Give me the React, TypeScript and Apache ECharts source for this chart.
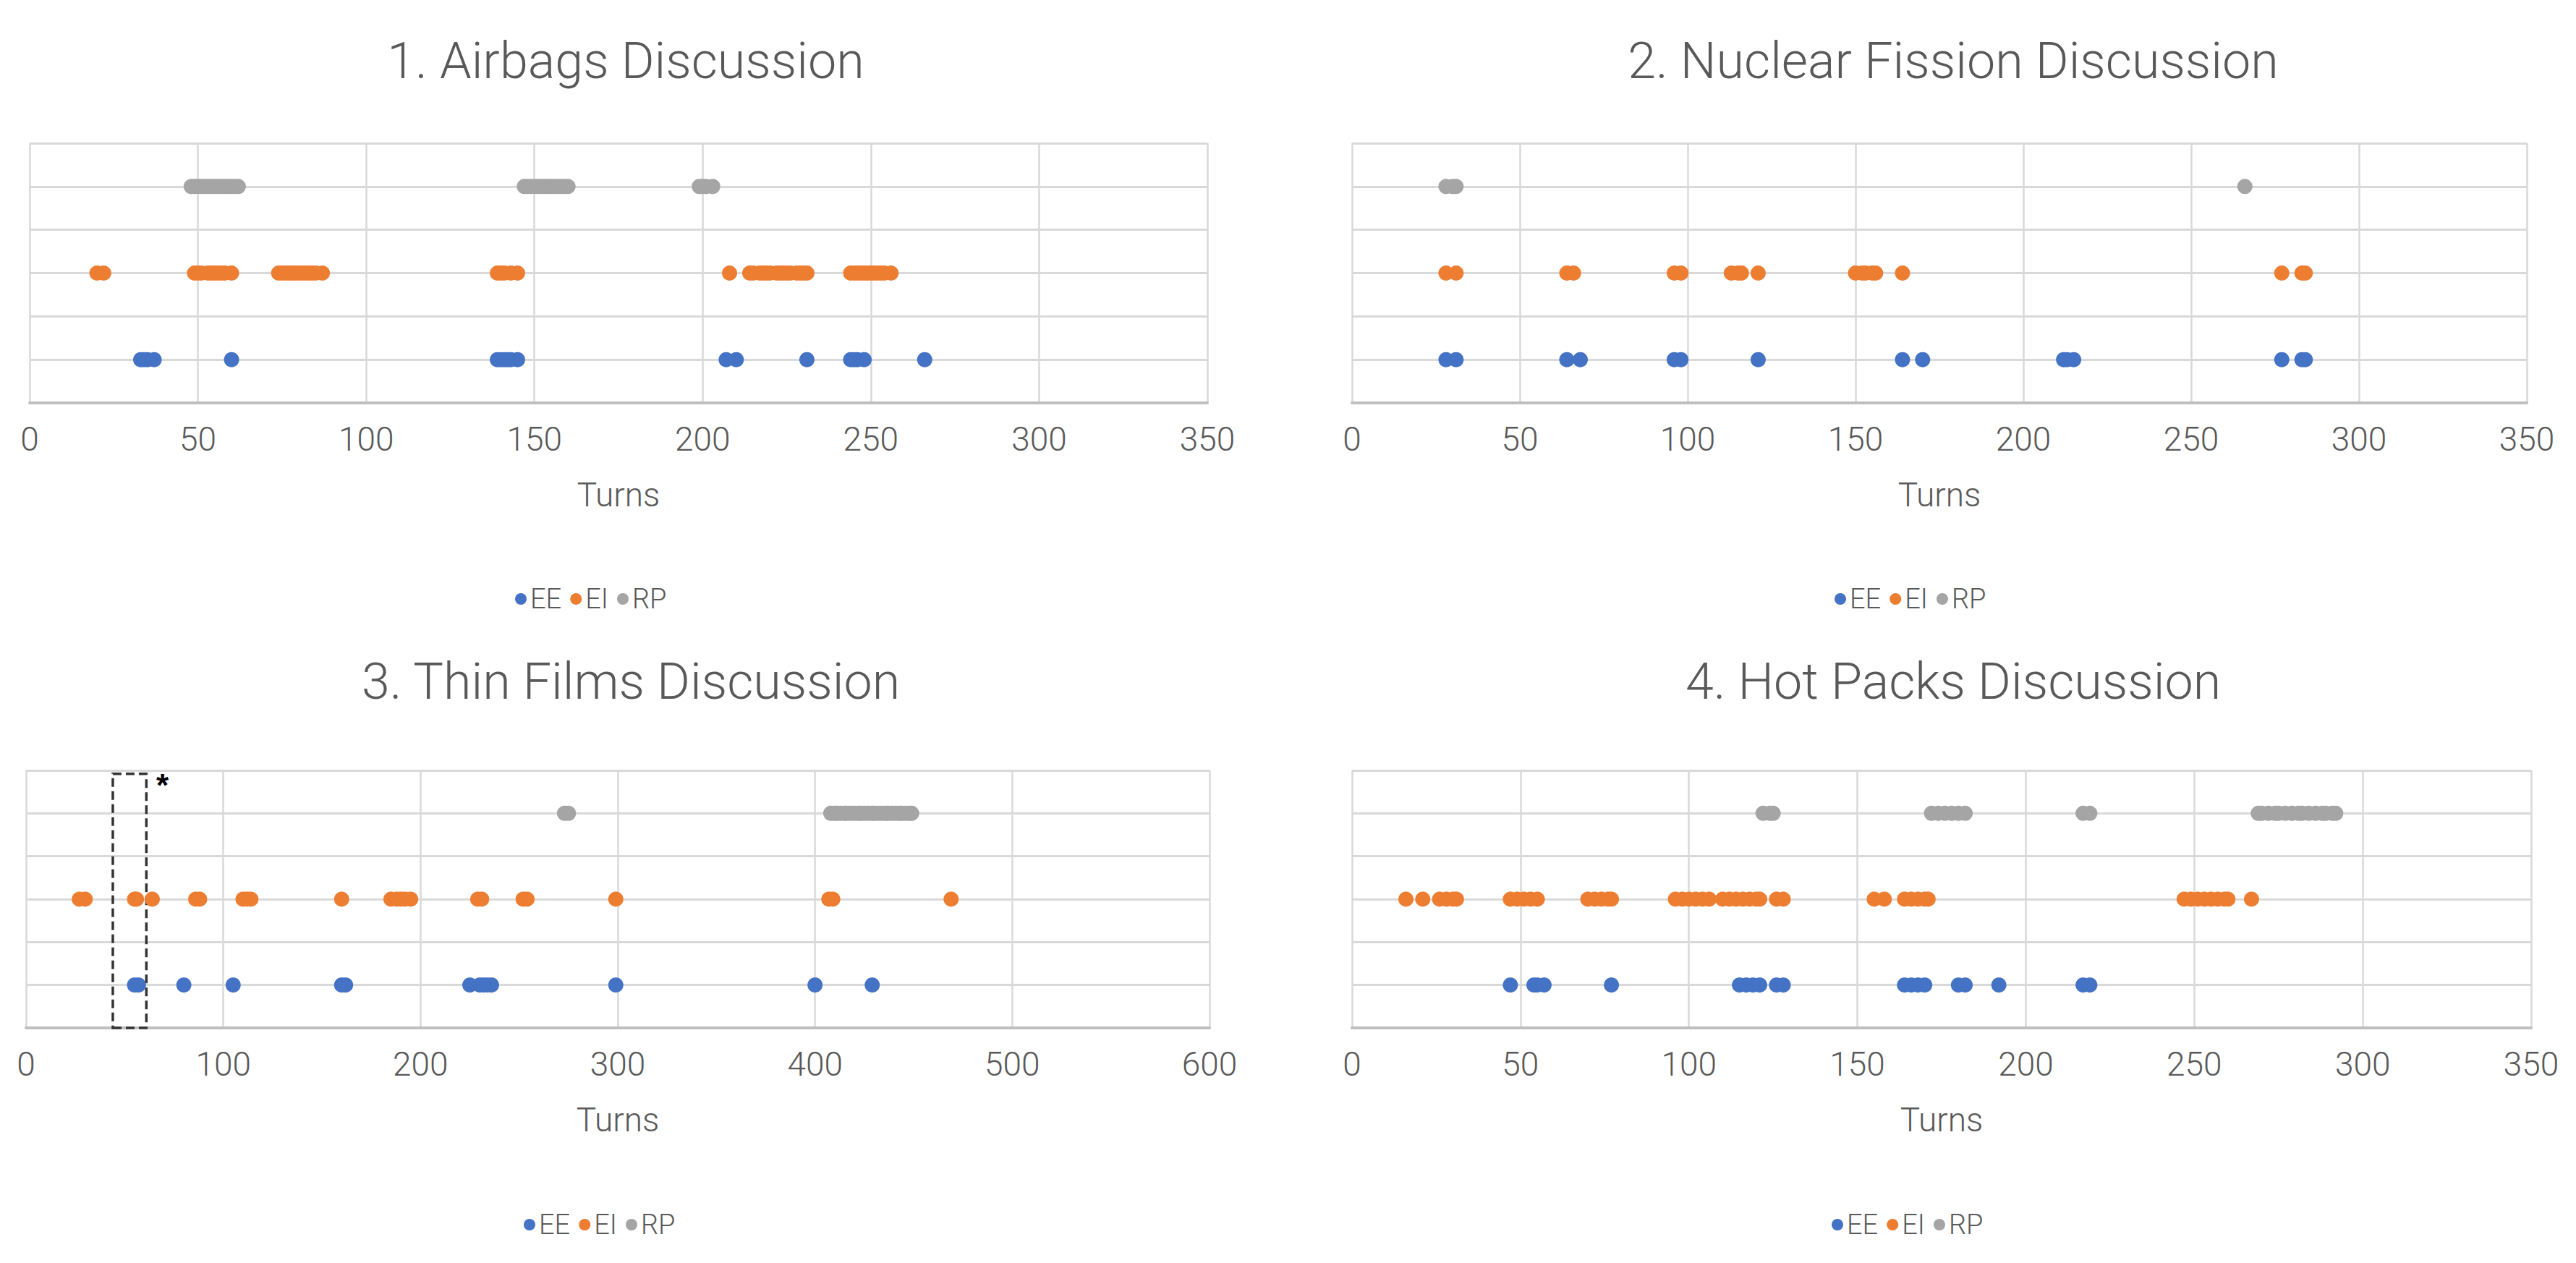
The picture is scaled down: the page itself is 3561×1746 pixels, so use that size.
import React, { useEffect, useRef } from 'react';
import * as echarts from 'echarts';

// ---------- data ----------
const TITLES = [
  '1. Airbags Discussion',
  '2. Nuclear Fission Discussion',
  '3. Thin Films Discussion',
  '4. Hot Packs Discussion',
];
const SERIES_NAMES = ['EE', 'EI', 'RP'];
const ROW_VALUES = [0.5, 1.5, 2.5]; // EE, EI, RP rows
const X_MAX = [350, 350, 600, 350];
const X_INTERVAL = [50, 50, 100, 50];
const AXIS_NAME = 'Turns';

// 1. Airbags
const EE1 = [33, 34, 35, 37, 60, 139, 140, 141, 142, 143, 145, 207, 210, 231, 244, 245, 246, 248, 266];
const EI1 = [20, 22, 49, 50, 51, 53, 54, 55, 56, 57, 58, 60, 74, 75, 76, 77, 78, 79, 80, 81, 82, 83, 84, 85, 87,
  139, 140, 141, 143, 145, 208, 214, 215, 217, 218, 219, 220, 222, 223, 224, 225, 226, 228, 229, 230, 231,
  244, 245, 246, 247, 248, 249, 250, 251, 252, 253, 254, 256];
const RP1 = [48, 49, 50, 51, 52, 53, 54, 55, 56, 57, 58, 59, 60, 61, 62, 147, 148, 149, 150, 151, 152, 153, 154,
  155, 156, 157, 158, 159, 160, 199, 200, 201, 203];

// 2. Nuclear Fission
const EE2 = [28, 31, 64, 68, 96, 98, 121, 164, 170, 212, 213, 215, 277, 283, 284];
const EI2 = [28, 31, 64, 66, 96, 98, 113, 115, 116, 121, 150, 152, 153, 155, 156, 164, 277, 283, 284];
const RP2 = [28, 30, 31, 266];

// 3. Thin Films
const EE3 = [55, 57, 80, 105, 160, 162, 225, 230, 232, 234, 236, 299, 400, 429];
const EI3 = [27, 30, 55, 56, 64, 86, 88, 110, 112, 114, 160, 185, 188, 190, 192, 195, 229, 231, 252, 254, 299,
  407, 409, 469];
const RP3 = [273, 275, 408, 410, 411, 413, 415, 416, 418, 420, 422, 423, 425, 427, 429, 430, 432, 434, 436, 437,
  439, 441, 443, 444, 446, 448, 449];
const HIGHLIGHT_FROM = 44; // dashed box in panel 3
const HIGHLIGHT_TO = 61;

// 4. Hot Packs
const EE4 = [47, 54, 55, 57, 77, 115, 117, 119, 121, 126, 128, 164, 166, 168, 170, 180, 182, 192, 217, 219];
const EI4 = [16, 21, 26, 28, 30, 31, 47, 49, 51, 53, 55, 70, 72, 74, 76, 77, 96, 98, 100, 102, 104, 106, 110, 112,
  114, 116, 118, 120, 121, 126, 128, 155, 158, 164, 166, 168, 170, 171, 247, 249, 251, 253, 255, 257, 259, 260, 267];
const RP4 = [122, 124, 125, 172, 174, 176, 178, 180, 182, 217, 219, 269, 270, 272, 274, 275, 277, 279, 281, 282,
  284, 286, 288, 289, 291, 292];

const PANELS = [
  [EE1, EI1, RP1],
  [EE2, EI2, RP2],
  [EE3, EI3, RP3],
  [EE4, EI4, RP4],
];

// ---------- layout / style ----------
const W = 3561;
const H = 1746;
const GRIDS = [
  { left: 41, top: 198, width: 1628, height: 359 },
  { left: 1869, top: 198, width: 1624, height: 359 },
  { left: 36, top: 1065, width: 1636, height: 356 },
  { left: 1869, top: 1065, width: 1630, height: 356 },
];
const TITLE_POS = [
  [865, 84],
  [2700, 84],
  [872, 942],
  [2700, 942],
];
const LEGEND_POS = [
  [712, 809],
  [2536, 809],
  [724, 1674],
  [2532, 1674],
];
const COLORS = ['#4472C4', '#ED7D31', '#A5A5A5'];
const TEXT = '#595959';
const FONT = 'Roboto, "Liberation Sans", sans-serif';

export default function App() {
  const ref = useRef<HTMLDivElement>(null);

  useEffect(() => {
    document.body.style.margin = '0';
    if (!ref.current) return;
    const chart = echarts.init(ref.current, undefined, { renderer: 'svg' });

    const series: any[] = [];
    PANELS.forEach((panel, p) => {
      panel.forEach((arr, k) => {
        const s: any = {
          type: 'scatter',
          name: SERIES_NAMES[k],
          xAxisIndex: p,
          yAxisIndex: p,
          symbol: 'circle',
          symbolSize: 21,
          itemStyle: { color: COLORS[k], opacity: 1 },
          data: arr.map((v) => [v, ROW_VALUES[k]]),
        };
        if (p === 2 && k === 0) {
          s.markArea = {
            silent: true,
            itemStyle: {
              color: 'rgba(0,0,0,0)',
              borderColor: '#333333',
              borderWidth: 3.5,
              borderType: [12, 6],
            },
            label: {
              show: true,
              formatter: '*',
              position: ['100%', 0],
              offset: [12, -4],
              fontSize: 44,
              fontWeight: 'bold',
              color: '#000',
              fontFamily: '"Liberation Sans", sans-serif',
            },
            data: [[{ xAxis: HIGHLIGHT_FROM, yAxis: 0 }, { xAxis: HIGHLIGHT_TO, yAxis: 2.96 }]],
          };
          s.z = 3;
        }
        series.push(s);
      });
    });

    const option: any = {
      animation: false,
      backgroundColor: '#ffffff',
      textStyle: { fontFamily: FONT },
      graphic: TITLES.map((t, i) => ({
        type: 'text',
        x: TITLE_POS[i][0],
        y: TITLE_POS[i][1],
        style: {
          text: t,
          fill: TEXT,
          fontSize: 70,
          fontWeight: 300,
          fontFamily: FONT,
          textAlign: 'center',
          textVerticalAlign: 'middle',
        },
      })),
      legend: LEGEND_POS.map((pos) => ({
        left: pos[0],
        top: pos[1],
        data: SERIES_NAMES,
        icon: 'circle',
        itemWidth: 16,
        itemHeight: 16,
        itemGap: 12,
        padding: 0,
        selectedMode: false,
        textStyle: { color: TEXT, fontSize: 38, fontFamily: FONT, fontWeight: 300 },
      })),
      grid: GRIDS.map((g) => ({ ...g, containLabel: false })),
      xAxis: GRIDS.map((_, i) => ({
        type: 'value',
        gridIndex: i,
        min: 0,
        max: X_MAX[i],
        interval: X_INTERVAL[i],
        name: AXIS_NAME,
        nameLocation: 'middle',
        nameGap: 104,
        nameTextStyle: { color: TEXT, fontSize: 46, fontFamily: FONT, fontWeight: 300 },
        axisLine: { show: true, lineStyle: { color: '#BFBFBF', width: 4 } },
        axisTick: { show: false },
        axisLabel: { color: TEXT, fontSize: 46, margin: 27, fontFamily: FONT, fontWeight: 300 },
        splitLine: { show: true, lineStyle: { color: '#D9D9D9', width: 2.5 } },
      })),
      yAxis: GRIDS.map((_, i) => ({
        type: 'value',
        gridIndex: i,
        min: 0,
        max: 3,
        interval: 0.5,
        axisLine: { show: false },
        axisTick: { show: false },
        axisLabel: { show: false },
        splitLine: { show: true, lineStyle: { color: '#D9D9D9', width: 3 } },
      })),
      series,
    };

    chart.setOption(option);
    return () => chart.dispose();
  }, []);

  return <div ref={ref} style={{ width: W, height: H }} />;
}
